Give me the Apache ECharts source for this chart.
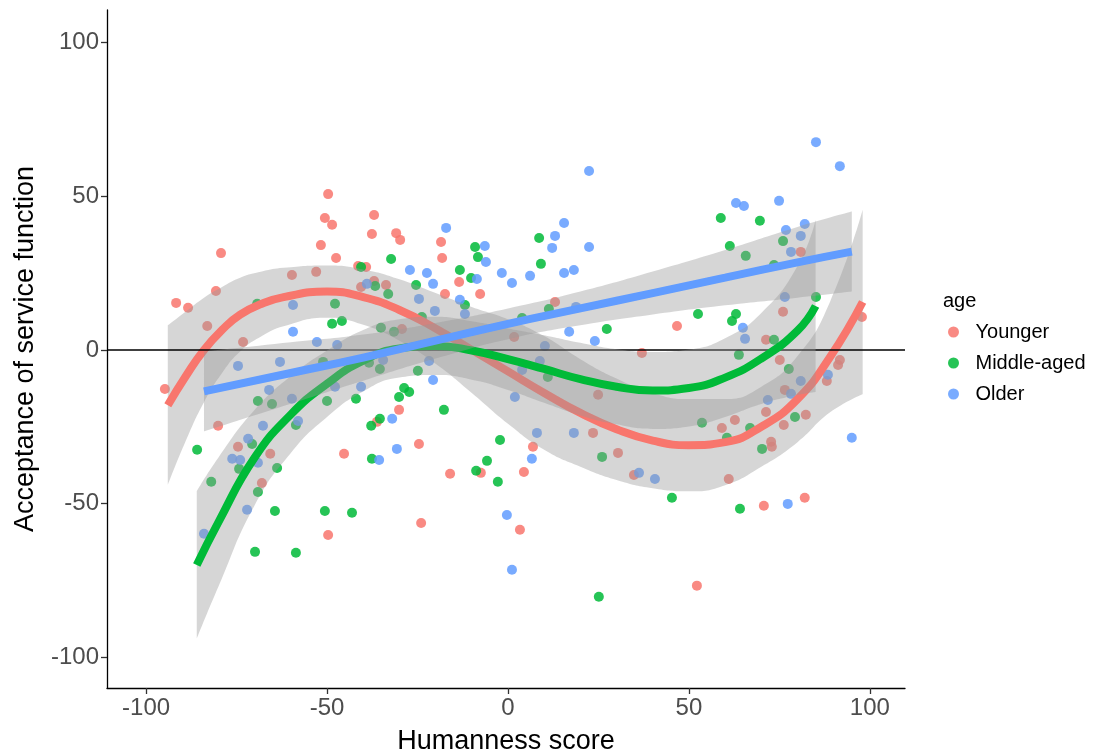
<!DOCTYPE html>
<html>
<head>
<meta charset="utf-8">
<script src="https://cdn.jsdelivr.net/npm/echarts@6/dist/echarts.min.js"></script>
<style>
  html, body { margin: 0; padding: 0; background: #fff; }
  #chart { width: 1096px; height: 754px; }
</style>
</head>
<body>
<div id="chart"></div>
<script>
// scatter points [humanness score, acceptance]
const youngerPts = [
  [-94.8,-12.7],[-91.7,15.3],[-88.4,13.7],[-83.1,7.8],[-73.2,2.6],[-80.1,-24.7],[-74.6,-31.5],[-80.7,19.2],
  [-79.3,31.5],[-49.7,50.7],[-50.6,42.9],[-48.6,40.7],[-51.7,34.1],[-59.7,24.4],[-53.0,25.4],[-37.0,43.9],
  [-37.6,37.7],[-30.9,38.0],[-29.8,35.8],[-18.5,35.1],[-18.2,29.9],[-47.5,29.9],[-41.4,27.3],[-39.2,27.0],
  [-13.5,22.1],[-33.7,21.1],[-40.6,20.5],[-37.0,22.4],[-17.4,18.2],[-7.7,18.2],[-29.3,6.8],[-30.1,-19.5],
  [-36.2,-23.4],[-24.6,-30.6],[1.7,4.2],[13.0,15.6],[46.7,7.8],[37.0,-1.0],[24.9,-14.6],[23.5,-27.0],
  [6.9,-31.5],[76.0,12.4],[71.3,3.3],[75.1,-3.3],[91.7,-3.3],[91.2,-4.9],[88.1,-10.1],[97.8,10.7],
  [76.5,-13.0],[71.3,-20.2],[62.7,-22.8],[59.1,-25.4],[76.2,-24.4],[82.3,-21.1],[72.7,-29.9],[72.9,-31.5],
  [-65.7,-33.8],[-68.0,-43.3],[-49.7,-60.2],[-45.3,-33.8],[-16.0,-40.3],[-7.5,-40.0],[-24.0,-56.3],[30.4,-33.5],
  [4.4,-39.7],[3.3,-58.5],[34.8,-40.7],[52.2,-76.7],[61.0,-42.0],[70.7,-50.7],[82.0,-48.1],[80.9,31.9]
];
const middlePts = [
  [-85.9,-32.5],[-69.3,15.0],[-48.6,8.5],[-69.1,-16.6],[-65.2,-17.6],[-50.0,-16.6],[-70.7,-30.6],[-58.6,-24.4],
  [-51.1,-3.9],[-32.3,29.6],[-40.6,27.0],[-9.1,33.5],[-8.3,30.2],[-13.3,26.0],[-10.2,23.4],[-25.4,21.1],
  [-36.7,20.8],[8.6,36.4],[9.1,28.0],[58.8,42.9],[69.6,42.0],[61.3,33.8],[65.7,30.6],[76.0,35.4],
  [73.5,27.6],[-33.1,18.2],[-47.8,15.0],[-45.9,9.4],[-35.1,7.2],[-31.5,5.9],[-11.9,14.6],[-23.8,10.7],
  [-38.4,-4.2],[-35.4,-6.2],[-24.9,-6.8],[-42.0,-15.9],[-28.7,-12.4],[-27.3,-13.7],[-30.1,-15.3],[-17.7,-19.5],
  [-35.4,-22.4],[-37.8,-24.7],[-2.2,-29.3],[3.9,10.4],[11.3,13.3],[27.3,6.8],[11.0,-8.8],[52.5,11.7],
  [85.1,17.2],[63.0,11.7],[61.9,9.4],[73.5,3.3],[63.8,-1.6],[77.6,-6.2],[79.3,-21.8],[66.9,-25.4],
  [60.5,-28.6],[70.2,-32.2],[53.6,-23.7],[-74.3,-38.7],[-63.8,-38.4],[-82.0,-42.9],[-69.1,-46.2],[-64.4,-52.4],
  [-50.6,-52.4],[-69.9,-65.7],[-58.6,-66.0],[-37.6,-35.4],[-5.8,-36.1],[-8.8,-39.3],[-2.8,-42.9],[-43.1,-53.0],
  [26.0,-34.8],[45.3,-48.1],[25.1,-80.3],[64.1,-51.7]
];
const olderPts = [
  [-59.4,14.6],[-59.4,5.9],[-52.8,2.6],[-74.6,-5.2],[-63.0,-3.9],[-66.0,-13.0],[-59.7,-15.9],[-67.7,-24.7],
  [-71.8,-28.9],[-58.0,-23.1],[-17.1,39.7],[-6.4,33.8],[-6.1,28.6],[-27.1,26.0],[-22.4,25.0],[-20.7,21.5],
  [-8.6,23.1],[-1.7,25.0],[1.1,21.8],[-39.0,21.5],[22.4,58.2],[15.5,41.3],[13.0,37.1],[12.2,33.2],
  [22.4,33.5],[6.1,24.1],[15.5,25.0],[18.2,26.0],[85.1,67.6],[91.7,59.8],[63.0,47.8],[65.2,46.8],
  [74.9,48.5],[82.0,41.0],[76.8,39.0],[80.9,37.1],[78.2,31.9],[-24.6,16.6],[-20.2,12.7],[-13.3,16.3],
  [-11.9,11.7],[-47.2,1.6],[-34.5,-3.3],[-21.8,-3.6],[-20.7,-9.8],[-40.6,-12.0],[-47.8,-12.0],[-32.0,-22.4],
  [1.9,-15.3],[-30.7,-32.2],[18.8,14.0],[16.9,5.9],[24.0,2.9],[10.2,1.3],[8.8,-3.6],[3.9,-6.5],
  [8.0,-27.0],[18.2,-27.0],[76.5,17.2],[64.9,7.2],[65.5,3.6],[80.9,-10.1],[88.4,-8.1],[78.2,-14.3],
  [71.8,-16.3],[95.0,-28.6],[-76.2,-35.4],[-74.0,-35.8],[-69.1,-36.7],[-72.1,-52.0],[-84.0,-59.8],[-35.6,-35.8],
  [-0.3,-53.7],[1.1,-71.5],[6.6,-35.4],[36.2,-40.0],[40.6,-42.0],[77.3,-50.1]
];

// fitted curves and confidence bands
const youngerX     = [-94, -89, -84, -79, -74, -68, -62, -50, -40, -30, -20, -10, 0, 10, 20, 30, 40, 50, 60, 70, 80, 89, 98];
const youngerFit   = [-18, -8.5, 0, 6.5, 11.5, 15, 17.2, 19, 17.2, 13, 7, 0, -7, -14, -20.5, -25.8, -29.5, -31, -30, -25, -16, -2.3, 15.6];
const youngerUpper = [8, 12.5, 17, 20.5, 23.5, 25.5, 26.7, 27.5, 26.2, 23, 18.5, 14, 10, 4.5, -3, -9.3, -14, -16, -16, -12, -2, 15.7, 45.6];
const youngerLower = [-44, -29.5, -17, -7.5, -0.5, 4.5, 7.7, 10.5, 8.2, 3, -4.5, -14, -24, -32.5, -38, -42.3, -45, -46, -44, -38, -30, -20.3, -14.4];

const middleX     = [-86, -80, -70, -60, -50, -40, -30, -20, -10, 0, 10, 20, 30, 40, 50, 60, 70, 80, 85];
const middleFit   = [-70, -56, -35, -21, -11, -3.5, 0.5, 1.3, -0.2, -3, -6.2, -9.5, -12, -13.2, -12.4, -9, -2.8, 6.3, 14.3];
const middleUpper = [-46, -35, -19.5, -8.5, -0.2, 6.5, 10, 10.8, 9.3, 7, 4.8, 2.3, 0.2, -0.7, 0.1, 3.8, 12, 27.3, 42.3];
const middleLower = [-94, -77, -50.5, -33.5, -21.8, -13.5, -9, -8.2, -9.7, -13, -17.2, -21.3, -24.2, -25.7, -24.9, -21.8, -17.6, -14.7, -13.7];

const olderX     = [-84, -60, -40, -20, 0, 20, 40, 60, 80, 95];
const olderFit   = [-13.5, -7.5, -2.5, 3, 8.5, 13.5, 18.5, 23.5, 28.5, 32];
const olderUpper = [-0.5, 2.5, 5, 8.8, 13.5, 19, 25.5, 32.5, 40, 45];
const olderLower = [-26.5, -17.5, -10, -2.8, 3.5, 8, 11.5, 14.5, 17, 19];

const tickValues = [-100, -50, 0, 50, 100];
const groups = ['Younger', 'Middle-aged', 'Older'];
const colors = ['#F8766D', '#00BA38', '#619CFF'];

const FONT = '"Liberation Sans", Arial, sans-serif';
const chart = echarts.init(document.getElementById('chart'));

// band = lower line + stacked (upper - lower) area.
// columns are [y, x] so the stack runs on the y value, not on x
function bandSeries(key, xs, lo, hi, z) {
  return [
    {
      type: 'line', stack: key, stackStrategy: 'all', smooth: true, symbol: 'none', silent: true, z,
      encode: { x: 1, y: 0 },
      lineStyle: { opacity: 0 },
      data: xs.map((x, i) => [lo[i], x])
    },
    {
      type: 'line', stack: key, stackStrategy: 'all', smooth: true, symbol: 'none', silent: true, z,
      encode: { x: 1, y: 0 },
      lineStyle: { opacity: 0 },
      areaStyle: { color: 'rgba(153,153,153,0.4)', opacity: 1 },
      data: xs.map((x, i) => [hi[i] - lo[i], x])
    }
  ];
}

function fitSeries(xs, ys, color, z) {
  return {
    type: 'line', smooth: true, symbol: 'none', silent: true, z,
    lineStyle: { color, width: 8, cap: 'butt' },
    data: xs.map((x, i) => [x, ys[i]])
  };
}

function axisBase() {
  return {
    type: 'value',
    axisLine: { onZero: false, lineStyle: { color: '#000', width: 1.3 } },
    axisTick: { show: true, length: 6, customValues: tickValues, lineStyle: { color: '#333', width: 1.3 } },
    axisLabel: { customValues: tickValues, fontSize: 24, color: '#4D4D4D', fontFamily: FONT, margin: 8 },
    splitLine: { show: false },
    nameLocation: 'middle',
    nameTextStyle: { fontSize: 27, color: '#000', fontFamily: FONT }
  };
}

const xAxis = Object.assign(axisBase(), { min: -110.8, max: 109.7, name: 'Humanness score', nameGap: 40 });
const yAxis = Object.assign(axisBase(), { min: -110, max: 110.6, name: 'Acceptance of service function', nameGap: 68 });

const pts = [youngerPts, middlePts, olderPts];

const series = [];
// zero reference line
series.push({
  type: 'line', data: [], z: 1, silent: true,
  markLine: {
    symbol: 'none', silent: true, label: { show: false },
    lineStyle: { color: '#000', width: 1.5, type: 'solid' },
    data: [{ yAxis: 0 }]
  }
});
pts.forEach((p, i) => {
  series.push({
    name: groups[i], type: 'scatter', data: p, symbolSize: 10, z: 2,
    itemStyle: { color: colors[i], opacity: 0.85 }
  });
});
series.push(...bandSeries('b0', youngerX, youngerLower, youngerUpper, 3));
series.push(fitSeries(youngerX, youngerFit, colors[0], 4));
series.push(...bandSeries('b1', middleX, middleLower, middleUpper, 5));
series.push(fitSeries(middleX, middleFit, colors[1], 6));
series.push(...bandSeries('b2', olderX, olderLower, olderUpper, 7));
series.push(fitSeries(olderX, olderFit, colors[2], 8));

chart.setOption({
  animation: false,
  textStyle: { fontFamily: FONT },
  title: {
    text: 'age', left: 938, top: 286,
    textStyle: { fontSize: 20, fontWeight: 'normal', color: '#000', fontFamily: FONT }
  },
  legend: {
    data: groups, orient: 'vertical', left: 943, top: 317,
    icon: 'circle', itemWidth: 34, itemHeight: 11, itemGap: 11,
    textStyle: { fontSize: 20, lineHeight: 20, color: '#000', fontFamily: FONT }
  },
  grid: { left: 107, right: 191, top: 10, bottom: 66, containLabel: false, outerBoundsMode: 'none' },
  xAxis,
  yAxis,
  series
});
</script>
</body>
</html>
